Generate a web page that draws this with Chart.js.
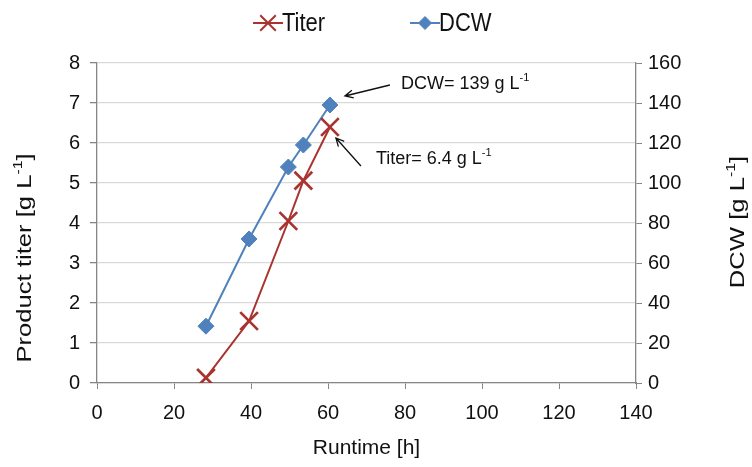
<!DOCTYPE html>
<html>
<head>
<meta charset="utf-8">
<script src="https://cdn.jsdelivr.net/npm/chart.js@4.4.1/dist/chart.umd.min.js"></script>
<style>
  html, body { margin: 0; padding: 0; background: #fff; }
  #wrap { width: 752px; height: 467px; position: relative; }
</style>
</head>
<body>
<div id="wrap"><canvas id="chart"></canvas></div>
<script>
  // ── data ────────────────────────────────────────────────
  const runtime = [28.3, 39.5, 49.7, 53.6, 60.5];   // h
  const titer = [0.13, 1.55, 4.05, 5.06, 6.4];      // g/L
  const dcw = [28.4, 72, 108, 119, 139];            // g/L
  const seriesNames = ["Titer", "DCW"];
  const xTitle = "Runtime [h]";

  const FONT = "'Liberation Sans', Arial, sans-serif";
  const RED = "#A9332F";
  const BLUE = "#4F81BD";
  const AXIS = "#868686";
  const INK = "#111";

  function pts(ys) {
    return runtime.map(function (x, i) { return { x: x, y: ys[i] }; });
  }

  // "base" + raised small "sup" + "tail", starting at x (or centred on x)
  function supText(ctx, base, sup, tail, x, y, size, center) {
    const small = Math.round(size * 0.62);
    ctx.font = size + "px " + FONT;
    const wb = ctx.measureText(base).width;
    const wt = ctx.measureText(tail).width;
    ctx.font = small + "px " + FONT;
    const ws = ctx.measureText(sup).width;
    let sx = center ? x - (wb + ws + wt) / 2 : x;
    ctx.textAlign = "left";
    ctx.textBaseline = "middle";
    ctx.font = size + "px " + FONT;
    ctx.fillText(base, sx, y);
    if (tail) ctx.fillText(tail, sx + wb + ws, y);
    ctx.font = small + "px " + FONT;
    ctx.fillText(sup, sx + wb, y - size * 0.33);
  }

  // rotated title, read bottom-to-top, stretched along its length
  function vTitle(ctx, cx, cy, base, sup, tail, size, stretch) {
    ctx.save();
    ctx.translate(cx, cy);
    ctx.rotate(-Math.PI / 2);
    ctx.scale(stretch, 1);
    supText(ctx, base, sup, tail, 0, 0, size, true);
    ctx.restore();
  }

  function arrow(ctx, x1, y1, x2, y2) {
    const a = Math.atan2(y2 - y1, x2 - x1);
    const h = 9;
    ctx.beginPath();
    ctx.moveTo(x1, y1);
    ctx.lineTo(x2, y2);
    ctx.moveTo(x2 - h * Math.cos(a - 0.45), y2 - h * Math.sin(a - 0.45));
    ctx.lineTo(x2, y2);
    ctx.lineTo(x2 - h * Math.cos(a + 0.45), y2 - h * Math.sin(a + 0.45));
    ctx.stroke();
  }

  // legend, vertical axis titles and the two callouts
  const extras = {
    id: "extras",
    afterDraw: function (chart) {
      const ctx = chart.ctx;
      const sx = chart.scales.x, sy = chart.scales.y, sy2 = chart.scales.y2;
      ctx.save();
      ctx.fillStyle = INK;

      // legend
      const legendX = [268, 425];
      const legendR = [11, 6.5];
      const legendW = [2, 1];
      const legendY = 23;
      chart.data.datasets.forEach(function (ds, i) {
        const cx = legendX[i];
        ctx.strokeStyle = ds.borderColor;
        ctx.lineWidth = 2;
        ctx.beginPath();
        ctx.moveTo(cx - 15, legendY);
        ctx.lineTo(cx + 15, legendY);
        ctx.stroke();
        if (Chart.helpers && Chart.helpers.drawPoint) {
          ctx.fillStyle = ds.pointBackgroundColor;
          ctx.strokeStyle = ds.pointBorderColor;
          ctx.lineWidth = legendW[i];
          Chart.helpers.drawPoint(ctx, {
            pointStyle: ds.pointStyle, radius: legendR[i],
            borderWidth: legendW[i], rotation: 0
          }, cx, legendY);
        }
        ctx.fillStyle = INK;
        ctx.save();
        ctx.translate(cx + 14, legendY + 1);
        ctx.scale(1, 1.15);
        ctx.font = "22px " + FONT;
        ctx.textAlign = "left";
        ctx.textBaseline = "middle";
        ctx.fillText(ds.label, 0, 0);
        ctx.restore();
      });

      // vertical axis titles (both read bottom-to-top)
      ctx.fillStyle = INK;
      vTitle(ctx, 25, 258, "Product titer [g L", "-1", "]", 21, 1.22);
      vTitle(ctx, 738, 222, "DCW [g L", "-1", "]", 21, 1.22);

      // callouts at the last sample
      const last = runtime.length - 1;
      const px = sx.getPixelForValue(runtime[last]);
      const pyD = sy2.getPixelForValue(dcw[last]);
      const pyT = sy.getPixelForValue(titer[last]);
      ctx.strokeStyle = INK;
      ctx.lineWidth = 1.3;
      arrow(ctx, px + 60, pyD - 20, px + 15, pyD - 9);
      arrow(ctx, px + 31, pyT + 39, px + 6, pyT + 11);
      ctx.fillStyle = INK;
      supText(ctx, "DCW= " + dcw[last] + " g L", "-1", "", px + 71, pyD - 21, 18, false);
      supText(ctx, "Titer= " + titer[last] + " g L", "-1", "", px + 46, pyT + 32, 18, false);

      ctx.restore();
    }
  };

  const tickFont = { family: FONT, size: 20 };

  new Chart(document.getElementById("chart"), {
    type: "line",
    data: {
      datasets: [
        {
          label: seriesNames[0],
          data: pts(titer),
          yAxisID: "y",
          borderColor: RED,
          borderWidth: 2,
          pointStyle: "crossRot",
          pointRadius: 12.5,
          pointBorderWidth: 2.7,
          pointBorderColor: RED,
          pointBackgroundColor: RED,
          tension: 0
        },
        {
          label: seriesNames[1],
          data: pts(dcw),
          yAxisID: "y2",
          borderColor: BLUE,
          borderWidth: 2,
          pointStyle: "rectRot",
          pointRadius: 8,
          pointBorderWidth: 1,
          pointBorderColor: BLUE,
          pointBackgroundColor: BLUE,
          tension: 0
        }
      ]
    },
    options: {
      responsive: true,
      maintainAspectRatio: false,
      animation: false,
      layout: { padding: { top: 63, left: 0, right: 0, bottom: 0 } },
      plugins: {
        legend: { display: false },
        tooltip: { enabled: false }
      },
      scales: {
        x: {
          type: "linear",
          min: 0,
          max: 140,
          ticks: { stepSize: 20, color: INK, font: tickFont, padding: 12, maxRotation: 0 },
          grid: { drawOnChartArea: false, tickLength: 6, tickColor: AXIS },
          border: { color: AXIS, width: 1.3 },
          title: { display: true, text: xTitle, color: INK, font: { family: FONT, size: 21 }, padding: { top: 0, bottom: 6 } },
          afterFit: function (s) { s.height = 84; }
        },
        y: {
          position: "left",
          min: 0,
          max: 8,
          ticks: { stepSize: 1, color: INK, font: tickFont, padding: 10 },
          grid: { color: "#D9D9D9", lineWidth: 1.3, tickLength: 7, tickColor: AXIS },
          border: { color: AXIS, width: 1.3 },
          afterFit: function (s) { s.width = 97; }
        },
        y2: {
          position: "right",
          min: 0,
          max: 160,
          ticks: { stepSize: 20, color: INK, font: tickFont, padding: 6 },
          grid: { drawOnChartArea: false, tickLength: 6, tickColor: AXIS },
          border: { color: AXIS, width: 1.3 },
          afterFit: function (s) { s.width = 116; }
        }
      }
    },
    plugins: [extras]
  });
</script>
</body>
</html>
